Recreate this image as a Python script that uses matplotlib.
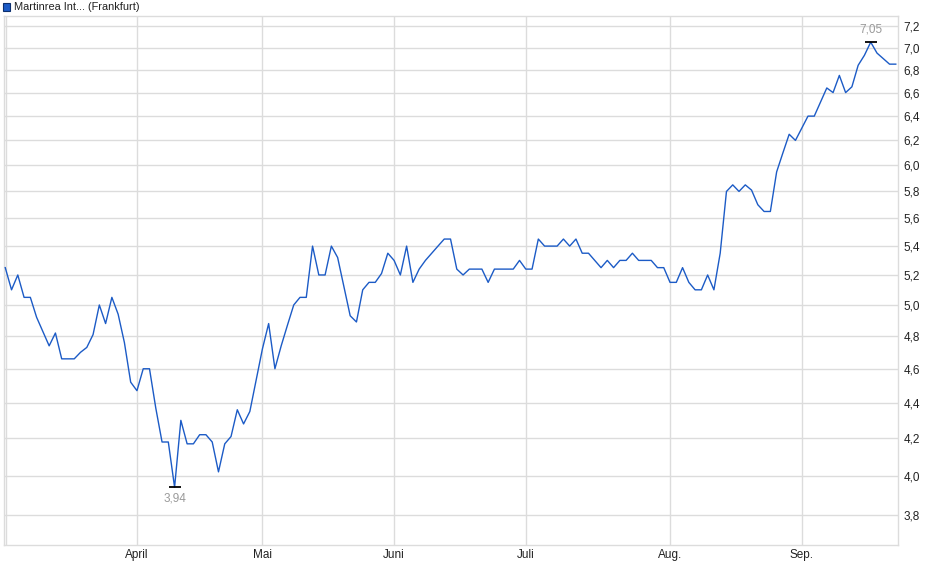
import matplotlib
matplotlib.use("Agg")
import matplotlib.pyplot as plt
from matplotlib.ticker import FixedLocator, FuncFormatter, NullLocator
from matplotlib.patches import Rectangle
import numpy as np

# Schlusskurse (Frankfurt), ein Wert pro Handelstag
kurse = [
    5.25, 5.10, 5.20, 5.05, 5.05, 4.92, 4.83, 4.74, 4.82, 4.66,
    4.66, 4.66, 4.70, 4.73, 4.81, 5.00, 4.88, 5.05, 4.94, 4.76,
    4.52, 4.47, 4.60, 4.60, 4.37, 4.18, 4.18, 3.94, 4.30, 4.17,
    4.17, 4.22, 4.22, 4.18, 4.02, 4.17, 4.21, 4.36, 4.28, 4.35,
    4.53, 4.72, 4.88, 4.60, 4.74, 4.87, 5.00, 5.05, 5.05, 5.40,
    5.20, 5.20, 5.40, 5.32, 5.12, 4.93, 4.89, 5.10, 5.15, 5.15,
    5.21, 5.35, 5.30, 5.20, 5.40, 5.15, 5.24, 5.30, 5.35, 5.40,
    5.45, 5.45, 5.24, 5.20, 5.24, 5.24, 5.24, 5.15, 5.24, 5.24,
    5.24, 5.24, 5.30, 5.24, 5.24, 5.45, 5.40, 5.40, 5.40, 5.45,
    5.40, 5.45, 5.35, 5.35, 5.30, 5.25, 5.30, 5.25, 5.30, 5.30,
    5.35, 5.30, 5.30, 5.30, 5.25, 5.25, 5.15, 5.15, 5.25, 5.15,
    5.10, 5.10, 5.20, 5.10, 5.35, 5.80, 5.85, 5.80, 5.85, 5.81,
    5.70, 5.65, 5.65, 5.95, 6.10, 6.25, 6.20, 6.30, 6.40, 6.40,
    6.52, 6.64, 6.60, 6.75, 6.60, 6.65, 6.84, 6.93, 7.05, 6.95,
    6.90, 6.85, 6.85,
]

# Monatsanfang als Handelstag-Index
monat_pos = [21, 41, 62, 83, 106, 127]
monat_namen = ["April", "Mai", "Juni", "Juli", "Aug.", "Sep."]
y_ticks = [3.8, 4.0, 4.2, 4.4, 4.6, 4.8, 5.0, 5.2, 5.4, 5.6, 5.8,
           6.0, 6.2, 6.4, 6.6, 6.8, 7.0, 7.2]

titel = "Martinrea Int... (Frankfurt)"

plt.rcParams["font.family"] = ["Liberation Sans", "DejaVu Sans"]
grid_col = "#dcdcdc"
linie_col = "#1c5bc6"

fig = plt.figure(figsize=(9.4, 5.79), dpi=100)
ax = fig.add_axes([4 / 940, 1 - 545.3 / 579, 894.3 / 940, 529.3 / 579])

x = np.arange(len(kurse))
ax.plot(x, kurse, color=linie_col, lw=1.0, zorder=3)

ax.set_yscale("log")
ax.set_ylim(3.652, 7.295)
ax.set_xlim(-0.2, len(kurse) - 0.6)

ax.yaxis.set_major_locator(FixedLocator(y_ticks))
ax.yaxis.set_minor_locator(NullLocator())
ax.yaxis.set_major_formatter(FuncFormatter(lambda v, p: f"{v:.1f}".replace(".", ",")))
ax.yaxis.tick_right()
ax.set_xticks(monat_pos)
ax.set_xticklabels(monat_namen)
ax.tick_params(axis="both", length=0, labelsize=8.5, colors="#222222")
ax.tick_params(axis="y", pad=4)
ax.tick_params(axis="x", pad=3)

ax.grid(True, color=grid_col, lw=1.0, zorder=0)
ax.axvline(0.1, color=grid_col, lw=1.0, zorder=0)
for s in ax.spines.values():
    s.set_color(grid_col)
    s.set_linewidth(1.0)

# Tief und Hoch markieren
i_min = int(np.argmin(kurse))
i_max = int(np.argmax(kurse))
for i, dy, va in [(i_min, -4, "top"), (i_max, 5, "bottom")]:
    ax.plot(i, kurse[i], marker="_", ms=9, mew=1.3, color="black", zorder=4)
    ax.annotate(f"{kurse[i]:.2f}".replace(".", ","), (i, kurse[i]),
                xytext=(0, dy), textcoords="offset points", ha="center", va=va,
                fontsize=8.5, color="#9a9a9a")

# Legende oben links
fig.patches.append(Rectangle((3 / 940, 1 - 10.5 / 579), 7 / 940, 7 / 579,
                             transform=fig.transFigure, facecolor=linie_col,
                             edgecolor="#0d2f6e", lw=0.8))
fig.text(14 / 940, 1 - 7 / 579, titel, fontsize=7.9, va="center", ha="left",
         color="#222222")

fig.savefig("out.png", dpi=100)
